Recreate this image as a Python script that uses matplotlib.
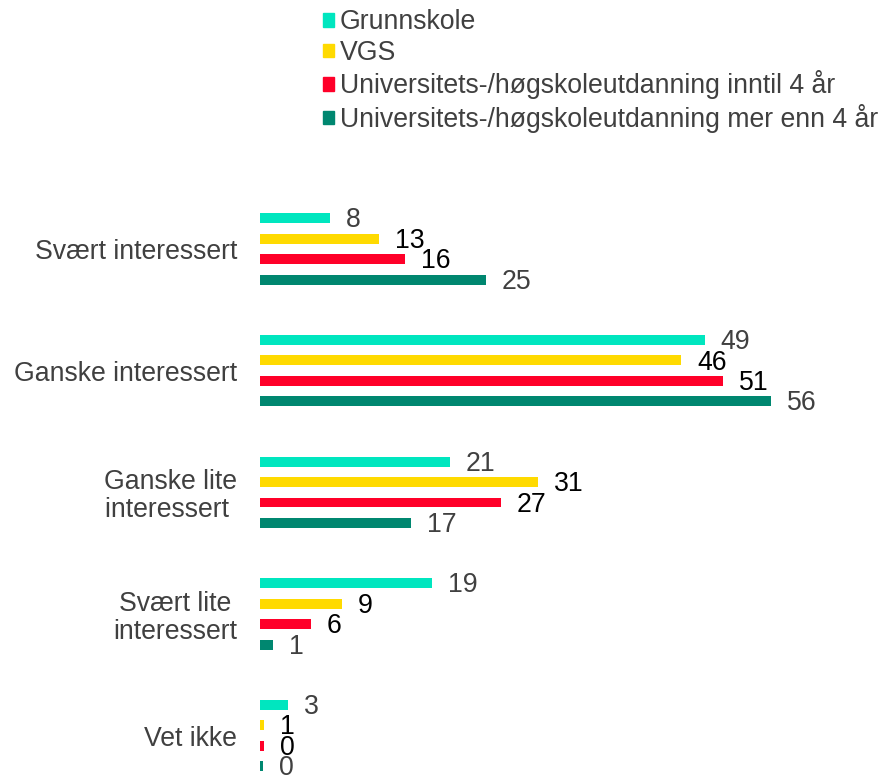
import matplotlib.pyplot as plt
from matplotlib.patches import Patch
import numpy as np

plt.rcParams['font.family'] = ['Liberation Sans', 'DejaVu Sans']

# categories and series
categories = ['Svært interessert', 'Ganske interessert', 'Ganske lite\ninteressert ',
              'Svært lite\ninteressert', 'Vet ikke']
series = ['Grunnskole', 'VGS', 'Universitets-/høgskoleutdanning inntil 4 år',
          'Universitets-/høgskoleutdanning mer enn 4 år']
colors = ['#00E6BF', '#FFDA00', '#FF0029', '#008770']
label_colors = ['#404040', '#000000', '#000000', '#404040']

# bar lengths and the numbers printed next to them
grunnskole = [7.7, 48.7, 20.8, 18.8, 3.1]
vgs = [13.0, 46.1, 30.4, 9.0, 0.45]
uni_short = [15.9, 50.7, 26.4, 5.6, 0.4]
uni_long = [24.7, 56.0, 16.5, 1.4, 0.35]
values = [grunnskole, vgs, uni_short, uni_long]

shown_grunnskole = [8, 49, 21, 19, 3]
shown_vgs = [13, 46, 31, 9, 1]
shown_uni_short = [16, 51, 27, 6, 0]
shown_uni_long = [25, 56, 17, 1, 0]
shown = [shown_grunnskole, shown_vgs, shown_uni_short, shown_uni_long]

fs = 19.2

fig = plt.figure(figsize=(8.82, 7.77), dpi=100)
ax = fig.add_axes([260 / 882, 0, 548 / 882, 577 / 777])

pitch = 0.168
bar_h = 0.082
y = np.arange(len(categories))
for i, vals in enumerate(values):
    ypos = y + (i - 1.5) * pitch
    ax.barh(ypos, vals, height=bar_h, color=colors[i])
    for yy, v, s in zip(ypos, vals, shown[i]):
        ax.annotate(str(s), (v, yy), xytext=(11.5, -1.5), textcoords='offset points',
                    va='center', ha='left', fontsize=fs, color=label_colors[i])

ax.set_xlim(0, 60)
ax.set_ylim(4.341, -0.403)
ax.set_yticks(y)
ax.set_yticklabels(categories, fontsize=fs, color='#404040', multialignment='center',
                   linespacing=1.1)
ax.tick_params(axis='y', length=0, pad=16.5)
ax.set_xticks([])
for sp in ax.spines.values():
    sp.set_visible(False)

handles = [Patch(color=c) for c in colors]
fig.legend(handles, series, loc='upper left', bbox_to_anchor=(318 / 882, 1 - 4 / 777),
           frameon=False, fontsize=fs, handlelength=0.4, handleheight=0.4,
           handletextpad=0.22, labelspacing=0.17, borderaxespad=0, borderpad=0.2,
           labelcolor='#404040')

fig.savefig('out.png', dpi=100)
